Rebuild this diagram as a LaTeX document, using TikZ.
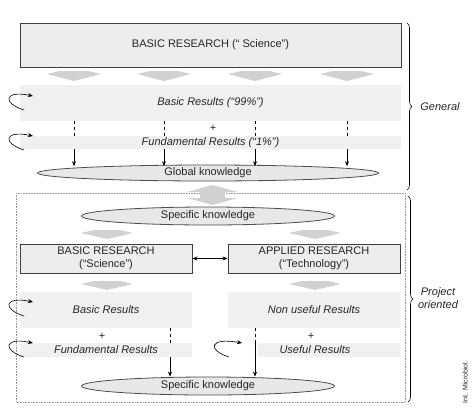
\documentclass[tikz,border=0pt]{standalone}
\usepackage{fontspec}
\setmainfont{Liberation Sans}
\usetikzlibrary{arrows.meta,positioning,calc,shapes.geometric,decorations.pathreplacing}

\begin{document}
\begin{tikzpicture}[x=1pt, y=-1pt, >={Stealth[length=5pt,width=4pt]},
    font=\fontsize{11}{12.5}\selectfont, text=black!85,
    resbox/.style={draw=black!75, line width=0.9pt, fill=gray!14, inner sep=1pt, align=center},
    band/.style={fill=gray!12, inner sep=0pt, font=\fontsize{11}{12.5}\selectfont\itshape},
    know/.style={ellipse, draw=black!70, line width=0.8pt, fill=gray!18, inner sep=0pt},
    flow/.style={fill=gray!36},
    curl/.style={->, line width=0.6pt},
    gen/.style={decorate, decoration={brace, amplitude=5pt}, line width=0.6pt}]
    \useasboundingbox (0,0) rectangle (474,416);

    % General part
    \node[resbox, minimum width=381pt, minimum height=44pt] (topbox) at (210.5,45) {BASIC RESEARCH (“ Science”)};
    \node[band, minimum width=381pt, minimum height=36pt] (basic) at (210.5,103) {Basic Results (“99\%”)};
    \node[band, minimum width=381pt, minimum height=13pt] (fund) at (210.5,142.5) {Fundamental Results (“1\%”)};
    \node (plusA) at (213,128) {+};
    \node[know, minimum width=341pt, minimum height=16pt] (global) at (208,173) {Global knowledge};

    % Gray flow arrows
    \foreach \c in {74,164,255,347} {
        \fill[flow] (\c-27,74) -- (\c-14,71) -- (\c+14,71) -- (\c+27,74) -- (\c,81) -- cycle;
    }

    % Results to global knowledge
    \foreach \x [count=\i] in {74,164,255,347} {
        \coordinate (col\i) at (\x,0);
        \draw[dashed, line width=0.5pt] (basic.south -| col\i) -- (fund.north -| col\i);
        \draw[->, line width=0.7pt] (fund.south -| col\i) -- ++(0,17);
    }

    % Project oriented frame
    \draw[gray!80, densely dotted, line width=0.6pt] (16,193) rectangle (405,402);
    \fill[flow] (212.5,185) -- (238,192) -- (225,192) -- (225,198) -- (238,198) -- (212.5,205)
        -- (187,198) -- (200,198) -- (200,192) -- (187,192) -- cycle;

    \node[know, minimum width=253pt, minimum height=18pt] (specA) at (208,216) {Specific knowledge};
    \node[resbox, minimum width=172pt, minimum height=29pt] (basicbox) at (106,258.5) {BASIC RESEARCH\\(“Science”)};
    \node[resbox, minimum width=172pt, minimum height=29pt] (appbox) at (314,258.5) {APPLIED RESEARCH\\(“Technology”)};
    \draw[<->, line width=0.7pt] (basicbox.east) -- (appbox.west);

    \foreach \c/\t in {107/230, 315/230, 107/281, 315/281} {
        \fill[flow] (\c-26,\t+3) -- (\c-13,\t) -- (\c+13,\t) -- (\c+26,\t+3) -- (\c,\t+9) -- cycle;
    }

    \node[band, minimum width=172pt, minimum height=36pt] (basicres) at (106,310) {Basic Results};
    \node[band, minimum width=172pt, minimum height=36pt] (nonuse) at (314,310) {Non useful Results};
    \node (plusB) at (102,336) {+};
    \node (plusC) at (311,336) {+};
    \node[band, minimum width=172pt, minimum height=14pt] (fundres) at (106,350) {Fundamental Results};
    \node[band, minimum width=142pt, minimum height=14pt] (useres) at (329,350) {};
    \node[font=\fontsize{11}{12.5}\selectfont\itshape] (usetxt) at (315,350) {Useful Results};
    \node[know, minimum width=253pt, minimum height=18pt] (specB) at (208,386) {Specific knowledge};

    % Results to specific knowledge
    \coordinate (colL) at (170,0);
    \coordinate (colR) at (255,0);
    \draw[dashed, line width=0.5pt] (basicres.south -| colL) -- (fundres.north -| colL);
    \draw[->, line width=0.7pt] (fundres.south -| colL) -- (specB.north -| colL);
    \draw[dashed, line width=0.5pt] (nonuse.south -| colR) -- (useres.north -| colR);
    \draw[->, line width=0.7pt] (useres.north -| colR) -- (specB.north -| colR);

    % Feedback loops
    \foreach \y in {96,136,302,343} {
        \draw[curl] (24,\y+14) .. controls (2,\y+7) and (4,\y-6) .. (33,\y);
    }
    \draw[curl] (229,357) .. controls (207,350) and (209,337) .. (242,343);

    % Braces
    \draw[gen] (407,23) -- (407,190);
    \draw[gen] (408,196) -- (408,402);
    \node[font=\fontsize{11}{12.5}\selectfont\itshape] (general) at (440,107) {General};
    \node[align=center, font=\fontsize{11}{12.5}\selectfont\itshape] (project) at (438,298) {Project\\oriented};
    \node[rotate=90, font=\fontsize{7}{8}\selectfont] (source) at (465,382) {Int. Microbiol.};

\end{tikzpicture}
\end{document}
